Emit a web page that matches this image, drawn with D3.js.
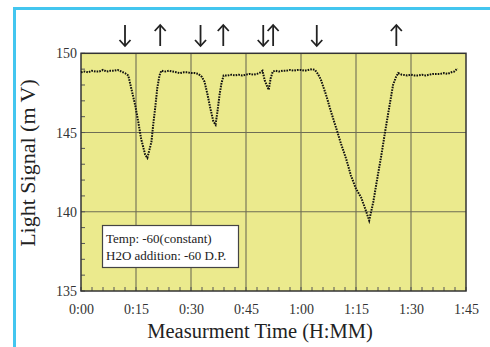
<!DOCTYPE html>
<html><head><meta charset="utf-8">
<script src="https://cdn.jsdelivr.net/npm/d3@7"></script>
<style>body{margin:0;background:#fff}svg{display:block}</style>
</head><body>
<svg id="c" width="490" height="347"></svg>
<script>
// Measurement time in minutes
const times = [0,1,2,3,4,5,6,7,8,9,10,11,12,
  12.9,13.7,14.8,15.6,16.4,17.5,18.1,
  19.2,19.7,20.3,20.8,21.4,21.9,
  23,24,25,26,27,28,29,30,31,32,
  33.0,33.7,34.5,35.3,36.1,36.7,
  37.2,37.8,38.3,38.9,
  40,41,42,43,44,45,46,47,48,49,49.5,
  50.1,50.8,51.2,51.7,52.3,
  53,54,55,56,57,58,59,60,61,62,63,63.8,
  64.6,65.4,66.8,68.2,69.5,70.9,72.3,73.6,75.0,76.4,77.5,78.6,
  79.7,80.8,81.9,82.9,84.0,85.1,85.9,86.5,
  87.5,89,90,91,92,93,94,95,96,97,98,99,100,101,101.8,102.7];
// Light signal (mV)
const signal = [148.8,148.85,148.8,148.9,148.85,148.85,148.95,148.85,148.9,148.9,148.95,148.85,148.75,
  148.6,147.8,146.7,145.7,144.6,143.6,143.4,
  144.4,145.5,146.7,147.8,148.6,148.9,
  148.85,148.9,148.85,148.8,148.75,148.8,148.8,148.75,148.75,148.7,
  148.5,148.2,147.4,146.5,145.7,145.5,
  146.3,147.4,148.1,148.6,
  148.6,148.65,148.6,148.65,148.6,148.65,148.7,148.65,148.7,148.8,148.9,
  148.3,147.9,147.7,148.4,148.85,
  148.9,148.85,148.9,148.9,148.95,148.9,148.95,148.95,148.9,148.95,149.0,148.95,
  148.7,148.35,147.4,146.3,145.35,144.3,143.35,142.3,141.45,140.9,140.2,139.45,
  140.6,142.1,143.55,145.0,146.5,148.0,148.5,148.75,
  148.65,148.6,148.65,148.6,148.6,148.65,148.6,148.65,148.7,148.7,148.7,148.75,148.7,148.8,148.85,149.05];
const xTicks = [0,15,30,45,60,75,90,105];
const xTickLabels = ["0:00","0:15","0:30","0:45","1:00","1:15","1:30","1:45"];
const yTicks = [135,140,145,150];
// water addition markers: time (min) and direction
const arrowTimes = [12.0,21.6,32.6,38.8,49.7,52.4,64.3,86.0];
const arrowDirs = ["down","up","down","up","down","up","down","up"];
const legendLines = ["Temp: -60(constant)","H2O addition: -60 D.P."];

const svg = d3.select("#c");
const L=81,R=466,T=53.3,B=291;
const x = d3.scaleLinear().domain([0,105]).range([L,R]);
const y = d3.scaleLinear().domain([135,150]).range([B,T]);
const serif = "'Liberation Serif','Times New Roman',serif";

// outer blue frame
svg.append("rect").attr("x",14.5).attr("y",8.5).attr("width",500).attr("height",360)
  .attr("fill","none").attr("stroke","#43c6ef").attr("stroke-width",3);

// plot background
svg.append("rect").attr("x",L).attr("y",T).attr("width",R-L).attr("height",B-T)
  .attr("fill","#ebea8d");

// grid
const grid = svg.append("g").attr("stroke","#6e6d55").attr("stroke-width",1.1);
xTicks.slice(1,-1).forEach(t=>grid.append("line").attr("x1",x(t)).attr("x2",x(t)).attr("y1",T).attr("y2",B));
yTicks.slice(1,-1).forEach(v=>grid.append("line").attr("x1",L).attr("x2",R).attr("y1",y(v)).attr("y2",y(v)));

// minor ticks (inside)
const mt = svg.append("g").attr("stroke","#555").attr("stroke-width",1);
d3.range(135,150.01,1).forEach(v=>mt.append("line").attr("x1",L).attr("x2",L+4).attr("y1",y(v)).attr("y2",y(v)));
d3.range(0,105.01,3).forEach(t=>mt.append("line").attr("x1",x(t)).attr("x2",x(t)).attr("y1",B).attr("y2",B-4));

// border
svg.append("rect").attr("x",L).attr("y",T).attr("width",R-L).attr("height",B-T)
  .attr("fill","none").attr("stroke","#333").attr("stroke-width",1.5);

// axes labels via d3 axes
const xAxis = d3.axisBottom(x).tickValues(xTicks).tickFormat((d,i)=>xTickLabels[i]).tickSize(0).tickPadding(13);
const gx = svg.append("g").attr("transform",`translate(0,${B})`).call(xAxis);
gx.select(".domain").remove();
gx.selectAll("text").attr("font-family",serif).attr("font-size",14).attr("fill","#333");
const yAxis = d3.axisLeft(y).tickValues(yTicks).tickFormat(d3.format("d")).tickSize(0).tickPadding(4);
const gy = svg.append("g").attr("transform",`translate(${L},0)`).call(yAxis);
gy.select(".domain").remove();
gy.selectAll("text").attr("font-family",serif).attr("font-size",14).attr("fill","#333");

// data line (dotted)
const pts = times.map((t,i)=>[t,signal[i]]);
svg.append("path").datum(pts)
  .attr("d",d3.line().x(d=>x(d[0])).y(d=>y(d[1])))
  .attr("fill","none").attr("stroke","#111").attr("stroke-width",2)
  .attr("stroke-dasharray","1.6,1.1");

// legend
svg.append("rect").attr("x",102.5).attr("y",225.5).attr("width",136).attr("height",42)
  .attr("fill","#fff").attr("stroke","#444").attr("stroke-width",1.2);
legendLines.forEach((s,i)=>svg.append("text").attr("x",106).attr("y",243+i*16.5)
  .attr("font-family",serif).attr("font-size",13).attr("fill","#222").text(s));

// arrows
const ag = svg.append("g").attr("stroke","#222").attr("stroke-width",1.8).attr("fill","none");
arrowTimes.forEach((t,i)=>{
  const cx = x(t), top=25, bot=46;
  ag.append("line").attr("x1",cx).attr("x2",cx).attr("y1",top).attr("y2",bot);
  if(arrowDirs[i]==="down"){
    ag.append("path").attr("d",`M${cx-5.5},${bot-6}L${cx},${bot}L${cx+5.5},${bot-6}`);
  } else {
    ag.append("path").attr("d",`M${cx-5.5},${top+6}L${cx},${top}L${cx+5.5},${top+6}`);
  }
});

// axis titles
svg.append("text").attr("x",260).attr("y",338).attr("text-anchor","middle")
  .attr("font-family",serif).attr("font-size",20.5).attr("fill","#222").text("Measurment Time (H:MM)");
svg.append("text").attr("transform","translate(35,163) rotate(-90)").attr("text-anchor","middle")
  .attr("font-family",serif).attr("font-size",22).attr("fill","#222").text("Light Signal (m V)");
</script>
</body></html>
